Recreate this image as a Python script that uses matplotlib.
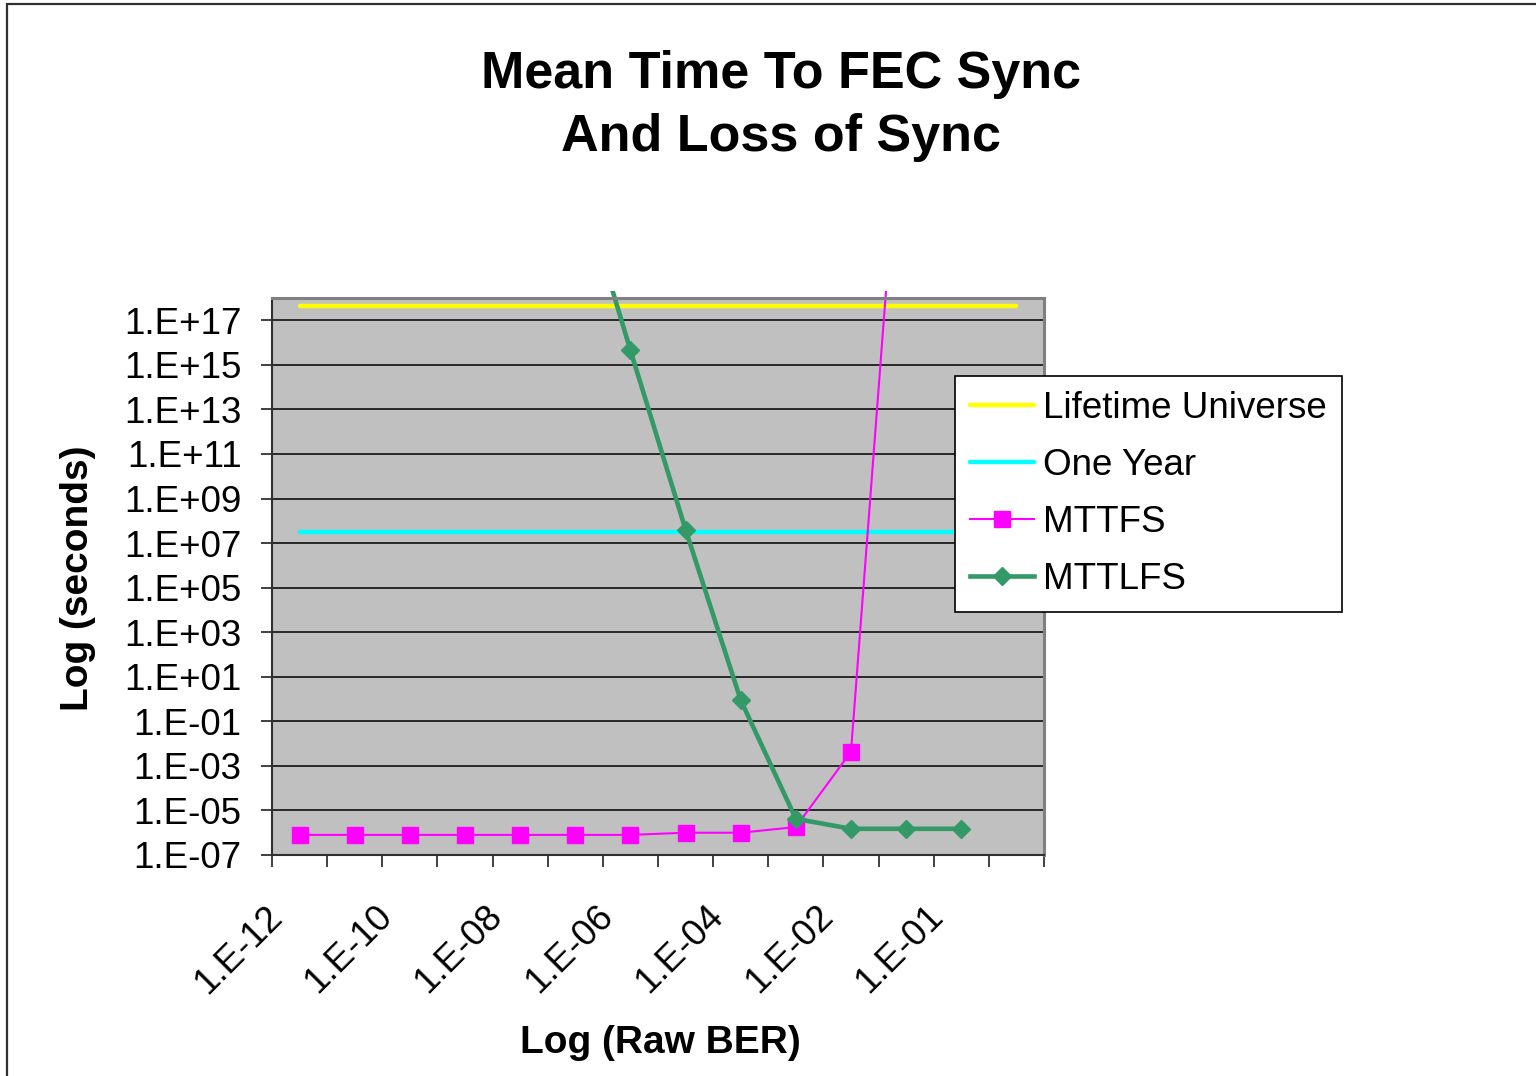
import numpy as np
import matplotlib
matplotlib.use('Agg')
import matplotlib.pyplot as plt
from matplotlib.patches import Rectangle
from matplotlib.transforms import Bbox, TransformedBbox, blended_transform_factory
from matplotlib.ticker import FixedLocator, FuncFormatter, NullLocator

plt.rcParams['font.family'] = ['Liberation Sans', 'DejaVu Sans']

# categories on the x axis (raw BER), every other one is labelled
ber_labels = ['1.E-12', '1.E-11', '1.E-10', '1.E-09', '1.E-08', '1.E-07', '1.E-06',
              '1.E-05', '1.E-04', '1.E-03', '1.E-02', '5.E-02', '1.E-01', '5.E-01']

# reference lines (seconds)
lifetime_universe = 4.3e17
one_year = 3.15e7

# mean time to FEC sync (seconds)
mttfs = [8e-7, 8e-7, 8e-7, 8e-7, 8e-7, 8e-7, 8e-7, 1e-6, 1e-6, 1.8e-6, 4.3e-3, 1.6e30,
         np.nan, np.nan]
# mean time to loss of FEC sync (seconds)
mttlfs = [np.nan, np.nan, np.nan, np.nan, np.nan, 8e23, 4.5e15, 4e7, 0.9, 4.2e-6,
          1.5e-6, 1.5e-6, 1.5e-6, np.nan]

W, H = 1536, 1076
fig = plt.figure(figsize=(W / 100, H / 100), dpi=100)

# outer chart border (only top and left visible)
fig.add_artist(Rectangle((7 / W, -0.1), 1.2, 1.1 - 4 / H, transform=fig.transFigure,
                         fill=False, edgecolor='#303030', linewidth=1.6))

ax = fig.add_axes([272 / W, 1 - 855 / H, (1044 - 272) / W, (855 - 298) / H])
ax.set_facecolor('#C0C0C0')

x = np.arange(1, len(ber_labels) + 1)

# lines may poke a few pixels over the plot area, like Excel does
clip = TransformedBbox(Bbox([[0, 0], [1, 1.013]]), ax.transAxes)

l1, = ax.plot(x, np.full(len(x), lifetime_universe), color='#FFFF00', lw=3.2,
              solid_capstyle='round', label='Lifetime Universe')
l2, = ax.plot(x, np.full(len(x), one_year), color='#00FFFF', lw=3.2,
              solid_capstyle='round', label='One Year')
l3, = ax.plot(x, mttfs, color='#FF00FF', lw=1.5, marker='s', markersize=11,
              markeredgecolor='#FF00FF', label='MTTFS')
l4, = ax.plot(x, mttlfs, color='#339966', lw=3.3, marker='D', markersize=9.5,
              markeredgecolor='#339966', label='MTTLFS')
for ln in (l1, l2, l3, l4):
    ln.set_clip_box(clip)

ax.set_yscale('log')
ax.set_ylim(1e-7, 1e18)
ax.set_xlim(0.5, len(x) + 0.5)

ax.yaxis.set_major_locator(FixedLocator(10.0 ** np.arange(-7, 18, 2)))
ax.yaxis.set_minor_locator(NullLocator())
ax.yaxis.set_major_formatter(FuncFormatter(lambda v, p: '1.E%+03d' % round(np.log10(v))))
ax.tick_params(axis='y', which='major', direction='out', length=8, width=1.2,
               pad=14, labelsize=26.5, color='#202020')
ax.grid(axis='y', color='black', lw=1.1)
ax.set_axisbelow(True)

ax.xaxis.set_major_locator(FixedLocator(np.arange(0.5, len(x) + 1, 1)))
ax.xaxis.set_minor_locator(NullLocator())
ax.set_xticklabels([])
ax.tick_params(axis='x', which='major', direction='out', length=8.5, width=1.2,
               color='#202020')

trans = blended_transform_factory(ax.transData, ax.transAxes)
for i in range(0, len(x), 2):
    ax.annotate(ber_labels[i], xy=(x[i], 0), xycoords=trans,
                xytext=(-16.5, -40.5), textcoords='offset points',
                rotation=45, rotation_mode='anchor', ha='right', va='center',
                fontsize=26.5, annotation_clip=False)

for s in ('top', 'right'):
    ax.spines[s].set_color('#808080')
    ax.spines[s].set_linewidth(2.2)
for s in ('left', 'bottom'):
    ax.spines[s].set_color('#303030')
    ax.spines[s].set_linewidth(1.5)

leg = ax.legend(handles=[l1, l2, l3, l4], loc='upper left',
                bbox_to_anchor=(955 / W, 1 - 376 / H), bbox_transform=fig.transFigure,
                borderaxespad=0, fontsize=26.5, fancybox=False, framealpha=1,
                edgecolor='black', handlelength=1.75, handletextpad=0.25,
                labelspacing=0.6, borderpad=0.4)
leg.get_frame().set_linewidth(1.2)

fig.text(781 / W, 1 - 50 / H, 'Mean Time To FEC Sync\nAnd Loss of Sync', ha='center',
         va='top', fontsize=37.5, fontweight='bold', linespacing=1.38)
fig.text(78 / W, 1 - 578 / H, 'Log (seconds)', rotation=90, ha='center', va='center',
         fontsize=28, fontweight='bold')
fig.text(660 / W, 1 - 1043 / H, 'Log (Raw BER)', ha='center', va='center',
         fontsize=28, fontweight='bold')

fig.savefig('out.png', dpi=100)
